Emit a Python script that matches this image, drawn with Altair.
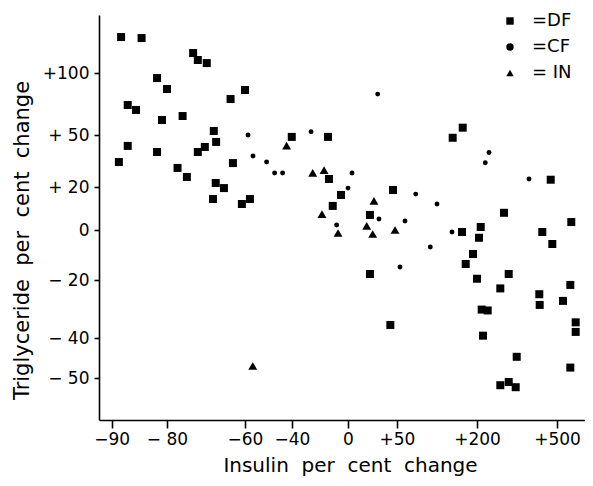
import altair as alt
import pandas as pd

# ---- data (per cent changes) ----
df_insulin = [-88.3, -84.6, -73.3, -72.1, -69.8, -81.8, -80.0, -60.0, -63.7, -87.1,
              -85.6, -80.9, -76.0, -68.0, -67.4, -87.1, -81.8, -70.3, -72.1, -88.7,
              -77.3, -74.9, -63.1, -67.5, -65.4, -68.2, -60.8, -57.9, -13.6, -5.0,
              -10.9, 22.4, 45.9, 22.4, -40.1, -14.3, 173.2, 154.4, 476.4, 301.3,
              553.6, 171.9, 213.9, 207.5, 444.9, 482.4, 192.5, 178.8, 200.0, 318.9,
              287.4, 549.9, 433.6, 435.1, 522.5, 217.6, 240.1, 570.1, 570.1, 222.5,
              348.9, 549.9, 287.4, 318.9, 345.1, 43.2]
df_trig = [129.0, 128.2, 116.1, 110.5, 108.0, 95.9, 87.1, 86.3, 79.0, 74.2,
           70.2, 62.1, 65.3, 53.2, 46.0, 43.7, 40.2, 43.1, 40.2, 34.4,
           31.0, 25.8, 33.8, 22.3, 19.5, 14.4, 12.1, 14.4, 24.6, 16.3,
           11.2, 7.0, 18.6, -17.6, 48.9, 48.9, 55.9, 48.4, 24.2, 8.0,
           3.7, -0.8, 1.4, -3.1, -0.8, -5.6, -9.6, -13.6, -19.5, -17.6,
           -22.9, -21.7, -24.9, -28.6, -27.2, -30.2, -30.5, -34.6, -37.9, -39.2,
           -44.7, -47.4, -51.8, -51.0, -52.3, -35.5]

cf_insulin = [-58.7, -56.6, -50.8, -47.4, -44.0, 4.1, 0.0, -8.1, 31.6, 85.1,
              65.0, 55.6, 30.3, -26.4, 245.0, 231.1, 395.0, 125.0, 153.1, 112.4]
cf_trig = [50.0, 37.9, 34.4, 28.1, 28.1, 28.1, 19.5, 2.3, 5.1, 16.7,
           4.2, -14.8, 83.0, 52.7, 39.9, 34.0, 24.6, 12.1, -0.8, -6.8]

in_insulin = [-25.2, -17.1, -18.6, -7.1, 26.5, 19.1, 25.2, 48.0, -42.3, -56.7]
in_trig = [28.1, 29.8, 7.4, -1.2, 13.5, 1.9, -1.6, 0.0, 43.8, -47.0]

groups = ["DF", "CF", "IN"]
group_labels = ["=DF", "=CF", "= IN"]

x_ticks = [-90, -80, -60, -40, 0, 50, 200, 500]
x_tick_labels = ["\u221290", "\u2212 80", "\u221260", "\u221240", "0", "+50", "+200", "+500"]
y_ticks = [100, 50, 20, 0, -20, -40, -50]
y_tick_labels = ["+100", "+ 50", "+ 20", "0", "\u2212 20", "\u2212 40", "\u2212 50"]

NB = "\u00a0"
x_title = f"Insulin{NB}{NB}per{NB}{NB}cent{NB}{NB}change"
y_title = f"Triglyceride{NB}{NB}per{NB}{NB}cent{NB}{NB}change"

# ---- layout of the hand-drawn (piecewise) axes ----
x_domain = [-92.3] + x_ticks + [605]
x_range = [0, 12.7, 68, 146, 193, 249, 298, 378, 458, 486]
y_domain = [-60.5, -50, -40, -20, 0, 20, 50, 100, 146.8]
y_range = [405, 363, 323, 265, 215, 172, 120, 58, 0]

# marker sizes per group (style)
marker_size = {"DF": 64, "CF": 24, "IN": 80}

rows = []
for g, xs, ys in (("DF", df_insulin, df_trig), ("CF", cf_insulin, cf_trig), ("IN", in_insulin, in_trig)):
    for a, b in zip(xs, ys):
        rows.append({"insulin": a, "trig": b, "group": g})
data = pd.DataFrame(rows)


def label_expr(values, labels, field="datum.value"):
    expr = "''"
    for v, l in reversed(list(zip(values, labels))):
        vv = f"'{v}'" if isinstance(v, str) else str(v)
        expr = f"{field} == {vv} ? '{l}' : {expr}"
    return expr


FONT = "DejaVu Sans"

base = alt.Chart(data).encode(
    x=alt.X(
        "insulin:Q",
        scale=alt.Scale(domain=x_domain, range=x_range, nice=False, zero=False),
        axis=alt.Axis(
            values=x_ticks, labelExpr=label_expr(x_ticks, x_tick_labels),
            title=x_title, grid=False, tickSize=8, labelPadding=3,
            titleX=251, titleY=45, titleBaseline="middle", titleAlign="center",
            titleFontSize=20,
        ),
    ),
    y=alt.Y(
        "trig:Q",
        scale=alt.Scale(domain=y_domain, range=y_range, nice=False, zero=False),
        axis=alt.Axis(
            values=y_ticks, labelExpr=label_expr(y_ticks, y_tick_labels),
            title=y_title, grid=False, tickSize=5, labelPadding=5,
            titleX=-77, titleY=225, titleBaseline="middle", titleAlign="center", titleAngle=270,
            titleFontSize=21,
        ),
    ),
    shape=alt.Shape(
        "group:N", sort=groups,
        scale=alt.Scale(domain=groups, range=["square", "circle", "triangle-up"]),
        legend=alt.Legend(
            orient="none", legendX=402, legendY=-3, title=None, padding=0,
            symbolSize=55, symbolFillColor="black", symbolStrokeColor="black",
            symbolStrokeWidth=0, labelFontSize=18, labelFont=FONT, labelColor="black",
            labelOffset=13, rowPadding=8, symbolOpacity=1,
            labelExpr=label_expr(groups, group_labels, field="datum.label"),
        ),
    ),
)

layers = [
    base.transform_filter(alt.datum.group == g).mark_point(
        filled=True, opacity=1, color="black", size=marker_size[g]
    )
    for g in groups
]

chart = alt.layer(*layers).properties(
    width=486, height=405,
    autosize=alt.AutoSizeParams(type="none"),
    padding={"left": 91, "top": 7, "right": 0, "bottom": 58},
).configure_view(stroke=None).configure_axis(
    domainColor="black", domainWidth=1.6, tickColor="black", tickWidth=1.6,
    labelColor="black", labelFont=FONT, labelFontSize=17,
    titleColor="black", titleFont=FONT, titleFontWeight="normal",
)

chart.save("out.html", embed_options={"renderer": "svg", "actions": False})
